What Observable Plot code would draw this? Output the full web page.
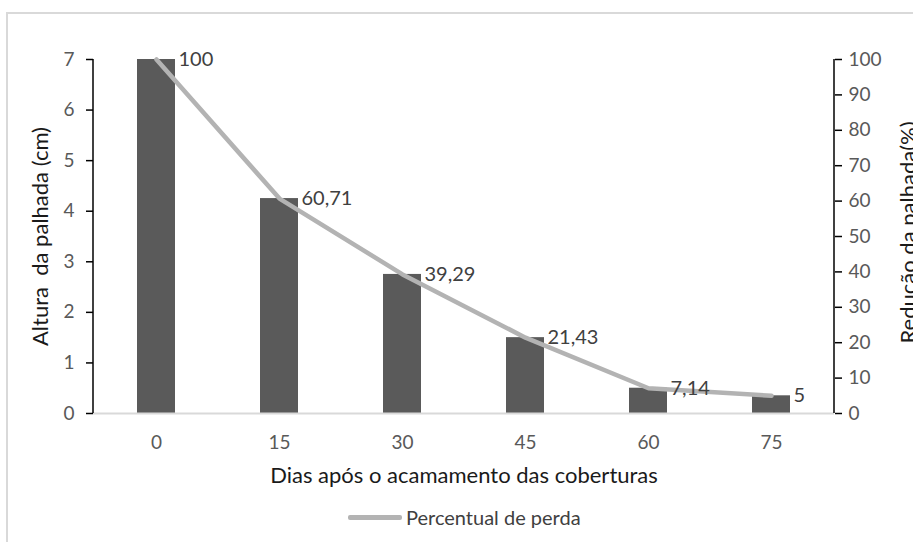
<!DOCTYPE html>
<html>
<head>
<meta charset="utf-8">
<script src="https://cdn.jsdelivr.net/npm/d3@7"></script>
<script src="https://cdn.jsdelivr.net/npm/@observablehq/plot@0.6"></script>
<style>
  html, body { margin: 0; padding: 0; background: #fff; overflow: hidden; }
  body { width: 913px; height: 542px; position: relative; font-family: Lato, "Open Sans", sans-serif; }
  #border { position: absolute; left: 6px; top: 12px; width: 1000px; height: 700px;
            border-left: 2px solid #d9d9d9; border-top: 2px solid #d9d9d9; }
  #chart { position: absolute; left: 0; top: 0; }
  #legend { position: absolute; left: 0; top: 500px; width: 913px; height: 42px; }
  .leg { position: absolute; left: 348px; top: 5px; display: flex; align-items: center;
         font-size: 20px; color: #404040; white-space: nowrap; }
  .sw { width: 54px; height: 5px; background: #b3b3b3; border-radius: 2px; margin-right: 4px; }
</style>
</head>
<body>
<div id="border"></div>
<div id="chart"></div>
<div id="legend"><div class="leg"><span class="sw"></span><span id="legtext"></span></div></div>
<script>
// ---- data ----
const days = [0, 15, 30, 45, 60, 75];
const altura = [7, 4.25, 2.75, 1.5, 0.5, 0.35];            // Altura da palhada (cm)
const perda = [100, 60.71, 39.29, 21.43, 7.14, 5];          // Percentual de perda (%)
const perdaLabels = ["100", "60,71", "39,29", "21,43", "7,14", "5"];
const leftTicks = [0, 1, 2, 3, 4, 5, 6, 7];
const rightTicks = [0, 10, 20, 30, 40, 50, 60, 70, 80, 90, 100];
const xTitle = "Dias após o acamamento das coberturas";
const yTitleLeft = "Altura  da palhada (cm)";
const yTitleRight = "Redução da palhada(%)";
const legendLabel = "Percentual de perda";

const cmMax = 7, pctMax = 100;
const toCm = p => p * cmMax / pctMax;

const rows = days.map((d, i) => ({day: d, alt: altura[i], pct: perda[i], lab: perdaLabels[i]}));

// custom mark: vertical axis lines at left and right of frame
function axisLines(...args) {
  const dims = args.find(a => a && a.marginLeft !== undefined);
  const g = d3.create("svg:g");
  const top = dims.marginTop, bottom = dims.height - dims.marginBottom;
  const l = dims.marginLeft, r = dims.width - dims.marginRight;
  g.append("line").attr("x1", l).attr("x2", l).attr("y1", top).attr("y2", bottom)
    .attr("stroke", "#000").attr("stroke-width", 1.5);
  g.append("line").attr("x1", r).attr("x2", r).attr("y1", top).attr("y2", bottom)
    .attr("stroke", "#000").attr("stroke-width", 1.5);
  return g.node();
}

const chart = Plot.plot({
  width: 913,
  height: 500,
  marginLeft: 93,
  marginRight: 79,
  marginTop: 59,
  marginBottom: 87,
  style: {fontFamily: "Lato, 'Open Sans', sans-serif", fontSize: "19px", background: "transparent", overflow: "visible"},
  x: {type: "band", domain: days, paddingInner: 0.69, paddingOuter: 0.345, label: null},
  y: {domain: [0, cmMax], label: null},
  marks: [
    Plot.barY(rows, {x: "day", y: "alt", fill: "#5a5a5a"}),
    Plot.ruleY([0], {stroke: "#d9d9d9", strokeWidth: 2}),
    Plot.line(rows, {x: "day", y: d => toCm(d.pct), stroke: "#b3b3b3", strokeWidth: 4.5, strokeLinecap: "round", strokeLinejoin: "round"}),
    Plot.text(rows, {x: "day", y: d => toCm(d.pct), text: "lab", textAnchor: "start", dx: 22, fill: "#404040", fontSize: 20}),
    Plot.axisX({tickSize: 0, tickPadding: 22, fill: "#595959", label: null}),
    Plot.axisY({ticks: leftTicks, anchor: "left", tickSize: 7, tickPadding: 12, stroke: "#000", strokeWidth: 1.5, fill: "#595959",
      tickFormat: d => String(d), label: null}),
    Plot.axisY(rightTicks.map(toCm), {anchor: "right", tickSize: 7, tickPadding: 7, stroke: "#000", strokeWidth: 1.5, fill: "#595959",
      tickFormat: d => String(Math.round(d * pctMax / cmMax)), label: null}),
    axisLines,
    Plot.text([yTitleLeft], {frameAnchor: "left", textAnchor: "middle", dx: -53, rotate: -90, fontSize: 22, fill: "#1a1a1a"}),
    Plot.text([yTitleRight], {frameAnchor: "right", textAnchor: "middle", dx: 74, dy: -4, rotate: -90, fontSize: 22, fill: "#1a1a1a"}),
    Plot.text([xTitle], {frameAnchor: "bottom", textAnchor: "middle", dy: 69, fontSize: 22, fill: "#1a1a1a"})
  ]
});
document.getElementById("chart").appendChild(chart);
document.getElementById("legtext").textContent = legendLabel;
</script>
</body>
</html>
